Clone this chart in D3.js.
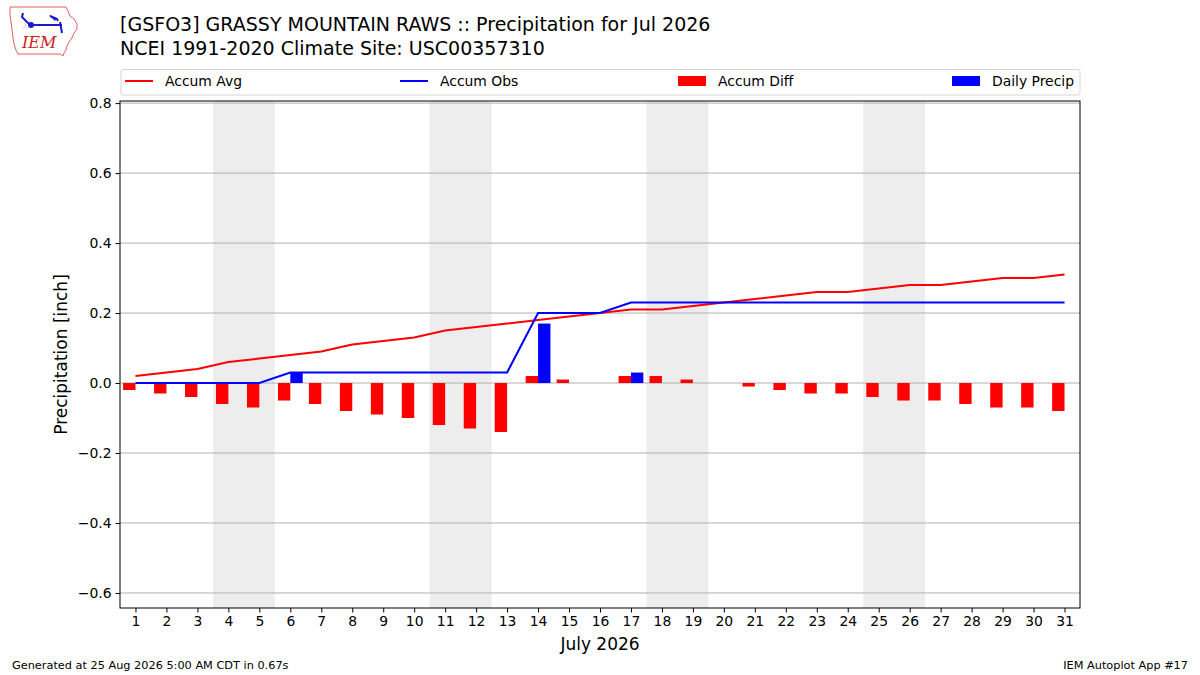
<!DOCTYPE html>
<html>
<head>
<meta charset="utf-8">
<script src="https://cdn.jsdelivr.net/npm/d3@7"></script>
<style>
  body { margin: 0; background: #fff; }
  svg { font-family: "DejaVu Sans", sans-serif; display: block; }
</style>
</head>
<body>
<script>
// Days of the month
const days = d3.range(1, 32);

// Accumulated climatology (inch)
const accumAvg = [0.02, 0.03, 0.04, 0.06, 0.07, 0.08, 0.09, 0.11, 0.12, 0.13,
  0.15, 0.16, 0.17, 0.18, 0.19, 0.20, 0.21, 0.21, 0.22, 0.23,
  0.24, 0.25, 0.26, 0.26, 0.27, 0.28, 0.28, 0.29, 0.30, 0.30, 0.31];

// Accumulated observed (inch)
const accumObs = [0.00, 0.00, 0.00, 0.00, 0.00, 0.03, 0.03, 0.03, 0.03, 0.03,
  0.03, 0.03, 0.03, 0.20, 0.20, 0.20, 0.23, 0.23, 0.23, 0.23,
  0.23, 0.23, 0.23, 0.23, 0.23, 0.23, 0.23, 0.23, 0.23, 0.23, 0.23];

// Accumulated departure (inch)
const accumDiff = [-0.02, -0.03, -0.04, -0.06, -0.07, -0.05, -0.06, -0.08, -0.09, -0.10,
  -0.12, -0.13, -0.14, 0.02, 0.01, 0.00, 0.02, 0.02, 0.01, 0.00,
  -0.01, -0.02, -0.03, -0.03, -0.04, -0.05, -0.05, -0.06, -0.07, -0.07, -0.08];

// Daily precipitation (inch)
const dailyPrecip = [0, 0, 0, 0, 0, 0.03, 0, 0, 0, 0,
  0, 0, 0, 0.17, 0, 0, 0.03, 0, 0, 0,
  0, 0, 0, 0, 0, 0, 0, 0, 0, 0, 0];

// Weekend days to shade
const weekends = [[4, 5], [11, 12], [18, 19], [25, 26]];

const yTicks = [-0.6, -0.4, -0.2, 0.0, 0.2, 0.4, 0.6, 0.8];

const [w, h] = [1200, 675];
const plot = { left: 120, right: 1080, top: 101, bottom: 608 };

const svg = d3.select('body').append('svg')
  .attr('width', w)
  .attr('height', h);

const x = d3.scaleLinear().domain([0.5, 31.5]).range([plot.left, plot.right]);
const y = d3.scaleLinear().domain([-0.643, 0.806]).range([plot.bottom, plot.top]);
const barW = 0.4;

// weekend shading
svg.selectAll('.weekend')
  .data(weekends)
  .enter().append('rect')
  .attr('x', d => x(d[0] - 0.5))
  .attr('y', plot.top)
  .attr('width', d => x(d[1] + 0.5) - x(d[0] - 0.5))
  .attr('height', plot.bottom - plot.top)
  .attr('fill', '#ededed');

// gridlines
svg.append('g')
  .selectAll('line')
  .data(yTicks)
  .enter().append('line')
  .attr('x1', plot.left).attr('x2', plot.right)
  .attr('y1', d => y(d)).attr('y2', d => y(d))
  .attr('stroke', '#b0b0b0')
  .attr('stroke-width', 1);

// accum diff bars (left of day)
svg.selectAll('.diff')
  .data(days)
  .enter().append('rect')
  .attr('class', 'diff')
  .attr('x', d => x(d - barW))
  .attr('width', x(barW) - x(0))
  .attr('y', (d, i) => y(Math.max(0, accumDiff[i])))
  .attr('height', (d, i) => Math.abs(y(accumDiff[i]) - y(0)))
  .attr('fill', '#ff0000');

// daily precip bars (right of day)
svg.selectAll('.daily')
  .data(days)
  .enter().append('rect')
  .attr('class', 'daily')
  .attr('x', d => x(d))
  .attr('width', x(barW) - x(0))
  .attr('y', (d, i) => y(dailyPrecip[i]))
  .attr('height', (d, i) => y(0) - y(dailyPrecip[i]))
  .attr('fill', '#0000ff');

// lines
const line = arr => d3.line()
  .x(d => x(d))
  .y((d, i) => y(arr[i]))(days);

svg.append('path')
  .attr('d', line(accumAvg))
  .attr('fill', 'none')
  .attr('stroke', '#ff0000')
  .attr('stroke-width', 2);

svg.append('path')
  .attr('d', line(accumObs))
  .attr('fill', 'none')
  .attr('stroke', '#0000ff')
  .attr('stroke-width', 2);

// axes
const xAxis = d3.axisBottom(x).tickValues(days).tickSize(4.5).tickPadding(4);
const yAxis = d3.axisLeft(y).tickValues(yTicks).tickSize(4.5).tickPadding(4)
  .tickFormat(d => d3.format('.1f')(d).replace('-', '\u2212'));

const gx = svg.append('g')
  .attr('transform', `translate(0, ${plot.bottom})`)
  .call(xAxis);
const gy = svg.append('g')
  .attr('transform', `translate(${plot.left}, 0)`)
  .call(yAxis);

[gx, gy].forEach(g => {
  g.select('.domain').remove();
  g.selectAll('text').attr('font-size', 13.9).attr('fill', '#000')
    .attr('font-family', '"DejaVu Sans", sans-serif');
  g.selectAll('line').attr('stroke', '#000').attr('stroke-width', 1);
});

// frame
svg.append('rect')
  .attr('x', plot.left).attr('y', plot.top)
  .attr('width', plot.right - plot.left)
  .attr('height', plot.bottom - plot.top)
  .attr('fill', 'none')
  .attr('stroke', '#000')
  .attr('stroke-width', 1);

// axis labels
svg.append('text')
  .attr('transform', `translate(67, ${(plot.top + plot.bottom) / 2}) rotate(-90)`)
  .attr('text-anchor', 'middle')
  .attr('font-size', 17)
  .text('Precipitation [inch]');

svg.append('text')
  .attr('x', (plot.left + plot.right) / 2)
  .attr('y', 650)
  .attr('text-anchor', 'middle')
  .attr('font-size', 17)
  .text('July 2026');

// titles
svg.append('text')
  .attr('x', 120).attr('y', 31)
  .attr('font-size', 19)
  .text('[GSFO3] GRASSY MOUNTAIN RAWS :: Precipitation for Jul 2026');
svg.append('text')
  .attr('x', 120).attr('y', 55)
  .attr('font-size', 19)
  .text('NCEI 1991-2020 Climate Site: USC00357310');

// legend
const legendItems = [
  { label: 'Accum Avg', color: '#ff0000', type: 'line', x: 125 },
  { label: 'Accum Obs', color: '#0000ff', type: 'line', x: 400 },
  { label: 'Accum Diff', color: '#ff0000', type: 'patch', x: 678 },
  { label: 'Daily Precip', color: '#0000ff', type: 'patch', x: 952 }
];

svg.append('rect')
  .attr('x', 121).attr('y', 69.5)
  .attr('width', 959).attr('height', 25.5)
  .attr('rx', 2)
  .attr('fill', '#fff')
  .attr('stroke', '#d6d6d6');

const lg = svg.selectAll('.legend')
  .data(legendItems)
  .enter().append('g')
  .attr('transform', d => `translate(${d.x}, 81)`);

lg.filter(d => d.type === 'line').append('line')
  .attr('x1', 0).attr('x2', 28)
  .attr('stroke', d => d.color)
  .attr('stroke-width', 2);

lg.filter(d => d.type === 'patch').append('rect')
  .attr('x', 0).attr('y', -5)
  .attr('width', 28).attr('height', 10)
  .attr('fill', d => d.color);

lg.append('text')
  .attr('x', 40).attr('y', 5)
  .attr('font-size', 13.9)
  .text(d => d.label);

// footer
svg.append('text')
  .attr('x', 12).attr('y', 669)
  .attr('font-size', 11.3)
  .text('Generated at 25 Aug 2026 5:00 AM CDT in 0.67s');
svg.append('text')
  .attr('x', 1188).attr('y', 669)
  .attr('text-anchor', 'end')
  .attr('font-size', 11.3)
  .text('IEM Autoplot App #17');

// IEM logo (rough sketch of the state outline and weather vane)
const logo = svg.append('g');
logo.append('path')
  .attr('d', 'M10,7 L66,7 L68,11 L70,16 L74,19 L77,24 L77,29 L74,33 L72,38 L69,42 L67,46 L66,50 L64,53 L63,56 L60,54 L18,54 L16,50 L14,44 L13,38 L12,30 L11,22 L10,15 Z')
  .attr('fill', '#fff')
  .attr('stroke', '#e06060')
  .attr('stroke-width', 1);
logo.append('path')
  .attr('d', 'M23,13 L22,17 L25,20 L30,25 L62,25 M50,16 L57,19 L58,21 M60,22 L62,33')
  .attr('fill', 'none')
  .attr('stroke', '#1a1ad0')
  .attr('stroke-width', 2);
logo.append('path')
  .attr('d', 'M49,15 L57,18 L55,21 Z')
  .attr('fill', '#1a1ad0');
logo.append('circle').attr('cx', 31).attr('cy', 25).attr('r', 3).attr('fill', '#1a1ad0');
logo.append('text')
  .attr('x', 23).attr('y', 29)
  .attr('font-size', 7)
  .attr('fill', '#1a1ad0')
  .text('\u2234');
logo.append('text')
  .attr('x', 22).attr('y', 48)
  .attr('font-family', '"DejaVu Serif", "Liberation Serif", serif')
  .attr('font-style', 'italic')
  .attr('font-size', 16)
  .attr('fill', '#d02020')
  .text('IEM');
</script>
</body>
</html>
